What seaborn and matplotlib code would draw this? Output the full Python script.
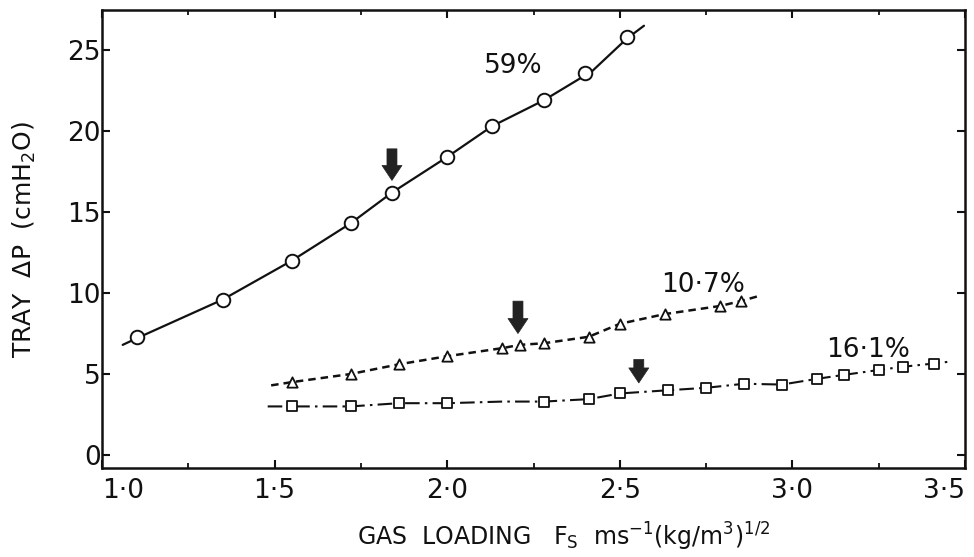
import matplotlib
matplotlib.use("Agg")
import matplotlib.pyplot as plt
import seaborn as sns
import pandas as pd
from matplotlib.ticker import MultipleLocator, FixedLocator, FixedFormatter

# ---- data ----
# 59% series (open circles)
x59 = [1.10, 1.35, 1.55, 1.72, 1.84, 2.00, 2.13, 2.28, 2.40, 2.52]
y59 = [7.3, 9.6, 12.0, 14.3, 16.2, 18.4, 20.3, 21.9, 23.6, 25.8]
curve59_x = [1.06, 1.10, 1.35, 1.55, 1.72, 1.84, 2.00, 2.13, 2.28, 2.42, 2.52, 2.57]
curve59_y = [6.8, 7.2, 9.6, 12.0, 14.3, 16.2, 18.4, 20.3, 21.9, 23.7, 25.7, 26.5]

# 10.7% series (open triangles)
x107 = [1.55, 1.72, 1.86, 2.00, 2.16, 2.21, 2.28, 2.41, 2.50, 2.63, 2.79, 2.85]
y107 = [4.5, 5.0, 5.6, 6.1, 6.6, 6.8, 6.9, 7.3, 8.1, 8.7, 9.2, 9.5]
curve107_x = [1.49, 1.55, 1.72, 1.86, 2.00, 2.16, 2.21, 2.28, 2.41, 2.50, 2.63, 2.79, 2.85, 2.90]
curve107_y = [4.3, 4.5, 5.0, 5.6, 6.1, 6.6, 6.8, 6.9, 7.3, 8.1, 8.7, 9.2, 9.5, 9.8]

# 16.1% series (open squares)
x161 = [1.55, 1.72, 1.86, 2.00, 2.28, 2.41, 2.50, 2.64, 2.75, 2.86, 2.97,
        3.07, 3.15, 3.25, 3.32, 3.41]
y161 = [3.0, 3.0, 3.2, 3.2, 3.3, 3.45, 3.8, 4.0, 4.15, 4.4, 4.35,
        4.7, 4.95, 5.25, 5.45, 5.65]
curve161_x = [1.48, 1.55, 1.72, 1.86, 2.00, 2.16, 2.28, 2.41, 2.50, 2.64, 2.75,
              2.86, 2.97, 3.07, 3.15, 3.25, 3.32, 3.41, 3.45]
curve161_y = [3.0, 3.0, 3.0, 3.2, 3.2, 3.3, 3.3, 3.45, 3.8, 4.0, 4.15,
              4.4, 4.35, 4.7, 4.95, 5.25, 5.45, 5.65, 5.75]

# series labels
label_text = ["59%", "10·7%", "16·1%"]
label_x = [2.19, 2.74, 3.22]
label_y = [24.0, 10.5, 6.5]

# arrows (x, tail value, tip value)
arrow_x = [1.84, 2.205, 2.555]
arrow_tail = [18.9, 9.5, 5.9]
arrow_tip = [16.95, 7.5, 4.45]

# axis ticks
xtick_vals = [1.0, 1.5, 2.0, 2.5, 3.0, 3.5]
xtick_labels = ["1·0", "1·5", "2·0", "2·5", "3·0", "3·5"]
ytick_vals = [0, 5, 10, 15, 20, 25]
ytick_labels = ["0", "5", "10", "15", "20", "25"]

# ---- plotting ----
sns.set_theme(style="ticks")
plt.rcParams["font.family"] = ["DejaVu Sans"]
plt.rcParams["mathtext.fontset"] = "dejavusans"

fig = plt.figure(figsize=(9.74, 5.57), dpi=100)
ax = fig.add_axes([0.1047, 0.1598, 0.8861, 0.8222])
ink = "#111111"

c59 = pd.DataFrame({"x": curve59_x, "y": curve59_y})
c107 = pd.DataFrame({"x": curve107_x, "y": curve107_y})
c161 = pd.DataFrame({"x": curve161_x, "y": curve161_y})
sns.lineplot(data=c59, x="x", y="y", ax=ax, color=ink, lw=1.6, sort=False,
             estimator=None)
sns.lineplot(data=c107, x="x", y="y", ax=ax, color=ink, lw=1.8, sort=False,
             estimator=None, linestyle=(0, (3, 2)))
sns.lineplot(data=c161, x="x", y="y", ax=ax, color=ink, lw=1.5, sort=False,
             estimator=None, linestyle=(0, (7, 2.5, 1.2, 2.5)))

p59 = pd.DataFrame({"x": x59, "y": y59})
p107 = pd.DataFrame({"x": x107, "y": y107})
p161 = pd.DataFrame({"x": x161, "y": y161})
sns.scatterplot(data=p59, x="x", y="y", ax=ax, marker="o", s=95,
                facecolor="white", edgecolor=ink, linewidth=1.4, zorder=5)
sns.scatterplot(data=p107, x="x", y="y", ax=ax, marker="^", s=55,
                facecolor="white", edgecolor=ink, linewidth=1.3, zorder=5)
sns.scatterplot(data=p161, x="x", y="y", ax=ax, marker="s", s=50,
                facecolor="white", edgecolor=ink, linewidth=1.3, zorder=5)

for t, lx, ly in zip(label_text, label_x, label_y):
    ax.text(lx, ly, t, fontsize=19, color=ink, ha="center", va="center")

for axx, tail, tip in zip(arrow_x, arrow_tail, arrow_tip):
    ax.annotate("", xy=(axx, tip), xytext=(axx, tail),
                arrowprops=dict(arrowstyle="simple,head_length=0.9,head_width=1.2,tail_width=0.6",
                                color="#222222", lw=0.5, shrinkA=0, shrinkB=0),
                zorder=6)

ax.set_xlim(1.0, 3.5)
ax.set_ylim(-0.8, 27.47)
ax.xaxis.set_major_locator(FixedLocator(xtick_vals))
ax.xaxis.set_major_formatter(FixedFormatter(xtick_labels))
ax.xaxis.set_minor_locator(MultipleLocator(0.25))
ax.yaxis.set_major_locator(FixedLocator(ytick_vals))
ax.yaxis.set_major_formatter(FixedFormatter(ytick_labels))

ax.tick_params(axis="both", which="major", direction="in", length=6, width=1.5,
               color=ink, labelsize=19, labelcolor=ink,
               top=True, right=True)
ax.tick_params(axis="x", which="major", pad=7)
ax.tick_params(axis="y", which="major", pad=1)
ax.tick_params(axis="x", which="minor", direction="in", length=3.5, width=1.3,
               color=ink, top=True, bottom=True)
for sp in ax.spines.values():
    sp.set_visible(True)
    sp.set_linewidth(1.8)
    sp.set_color(ink)

ax.set_ylabel("TRAY  ΔP  (cmH$_2$O)", fontsize=18, color=ink, labelpad=21)
ax.set_xlabel("GAS  LOADING   F$_\\mathrm{S}$  ms$^{-1}$(kg/m$^3$)$^{1/2}$",
              fontsize=17, color=ink)
ax.xaxis.set_label_coords(0.535, -0.115)

fig.canvas.draw()
xt = ax.xaxis.get_major_ticks()
xt[-1].label1.set_horizontalalignment("right")
xt[0].label1.set_horizontalalignment("left")
xt[0].label1.set_x(1.0)

fig.savefig("out.png", dpi=100, facecolor="white")
